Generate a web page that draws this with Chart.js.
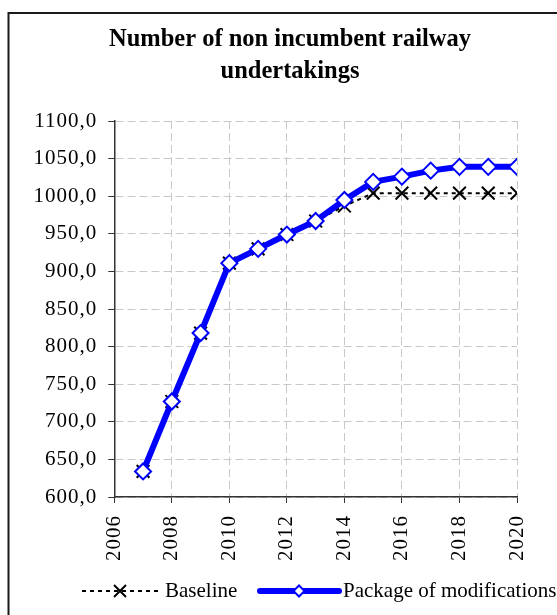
<!DOCTYPE html>
<html>
<head>
<meta charset="utf-8">
<title>Number of non incumbent railway undertakings</title>
<script src="https://cdn.jsdelivr.net/npm/chart.js@4.4.1/dist/chart.umd.min.js"></script>
<style>
    html, body { margin: 0; padding: 0; background: #ffffff; overflow: hidden; }
    #wrap { position: relative; width: 557px; height: 615px; }
</style>
</head>
<body>
<div id="wrap"><canvas id="myChart" width="557" height="615"></canvas></div>
<script>
// values
var years = [2007, 2008, 2009, 2010, 2011, 2012, 2013, 2014, 2015, 2016, 2017, 2018, 2019, 2020];
var baselineValues = [634, 727, 818, 911, 930, 949, 967, 987, 1004, 1004, 1004, 1004, 1004, 1004];
var packageValues = [634, 727, 818, 911, 930, 949, 967, 995, 1019, 1026, 1034, 1039, 1039, 1039];
var seriesNames = ['Baseline', 'Package of modifications'];
var titleLines = ['Number of non incumbent railway', 'undertakings'];
var xTicks = [2006, 2008, 2010, 2012, 2014, 2016, 2018, 2020];
var yTicks = [600, 650, 700, 750, 800, 850, 900, 950, 1000, 1050, 1100];

var FONT = "'Liberation Serif', 'Times New Roman', serif";

function toPoints(values)
{
    return years.map(function (year, i) { return { x: year, y: values[i] }; });
}

function drawCross(ctx, x, y, r)
{
    ctx.beginPath();
    ctx.moveTo(x - r, y - r); ctx.lineTo(x + r, y + r);
    ctx.moveTo(x - r, y + r); ctx.lineTo(x + r, y - r);
    ctx.stroke();
}

function drawDiamond(ctx, x, y, r)
{
    ctx.beginPath();
    ctx.moveTo(x, y - r); ctx.lineTo(x + r, y);
    ctx.lineTo(x, y + r); ctx.lineTo(x - r, y);
    ctx.closePath();
    ctx.fill();
    ctx.stroke();
}

// white background plus the outer frame (only left and top edges are in view)
var framePlugin =
{
    id: 'frame',
    beforeDraw: function (chart)
    {
        var ctx = chart.ctx;
        ctx.save();
        ctx.fillStyle = '#ffffff';
        ctx.fillRect(0, 0, chart.width, chart.height);
        ctx.strokeStyle = '#1a1a1a';
        ctx.lineWidth = 2;
        ctx.beginPath();
        ctx.moveTo(8.5, chart.height);
        ctx.lineTo(8.5, 13);
        ctx.lineTo(chart.width, 13);
        ctx.stroke();
        ctx.restore();
        // Excel spreads the axis digits a little
        ctx.letterSpacing = '1px';
    }
};

// title centred over the whole frame, as in the workbook
var titlePlugin =
{
    id: 'frameTitle',
    afterDraw: function (chart)
    {
        var ctx = chart.ctx;
        ctx.save();
        ctx.letterSpacing = '0px';
        ctx.font = 'bold 24.5px ' + FONT;
        ctx.fillStyle = '#000000';
        ctx.textAlign = 'center';
        ctx.textBaseline = 'alphabetic';
        ctx.fillText(titleLines[0], 290, 46);
        ctx.fillText(titleLines[1], 290, 78);
        ctx.restore();
    }
};

// legend in the Excel style: line sample with the marker in its middle
var legendPlugin =
{
    id: 'lineLegend',
    afterDraw: function (chart)
    {
        var ctx = chart.ctx;
        var base = chart.data.datasets[0];
        var pack = chart.data.datasets[1];
        var y = 591;

        ctx.save();
        ctx.letterSpacing = '0px';
        ctx.font = '21px ' + FONT;
        ctx.textBaseline = 'middle';
        ctx.textAlign = 'left';

        ctx.strokeStyle = base.borderColor;
        ctx.lineWidth = base.borderWidth;
        ctx.setLineDash(base.borderDash);
        ctx.beginPath();
        ctx.moveTo(82, y); ctx.lineTo(158, y);
        ctx.stroke();
        ctx.setLineDash([]);
        ctx.lineWidth = base.pointBorderWidth;
        drawCross(ctx, 120, y, 6);
        ctx.fillStyle = '#000000';
        ctx.fillText(seriesNames[0], 165, y);

        ctx.strokeStyle = pack.borderColor;
        ctx.lineWidth = pack.borderWidth;
        ctx.lineCap = 'round';
        ctx.beginPath();
        ctx.moveTo(260, y); ctx.lineTo(339, y);
        ctx.stroke();
        ctx.lineCap = 'butt';
        ctx.lineWidth = pack.pointBorderWidth;
        ctx.fillStyle = pack.pointBackgroundColor;
        drawDiamond(ctx, 299, y, 5.5);
        ctx.fillStyle = '#000000';
        ctx.fillText(seriesNames[1], 343, y);
        ctx.restore();
    }
};

function carregarGrafico()
{
    Chart.defaults.font.family = FONT;
    Chart.defaults.color = '#000000';

    var chartData =
    {
        datasets: [
        {
            label: seriesNames[0],
            data: toPoints(baselineValues),
            order: 1,
            borderColor: '#000000',
            borderWidth: 2,
            borderDash: [4, 4],
            pointStyle: 'crossRot',
            pointRadius: 9,
            pointBorderColor: '#000000',
            pointBorderWidth: 2,
            pointBackgroundColor: '#000000',
            tension: 0
        },
        {
            label: seriesNames[1],
            data: toPoints(packageValues),
            order: 0,
            borderColor: '#0000ff',
            borderWidth: 6,
            pointStyle: 'rectRot',
            pointRadius: 8,
            pointBorderColor: '#0000ff',
            pointBorderWidth: 2,
            pointBackgroundColor: '#ffffff',
            tension: 0
        }]
    };

    var gridStyle =
    {
        color: '#c8c8c8',
        lineWidth: 1,
        tickLength: 6,
        tickColor: '#333333',
        tickBorderDash: []
    };

    // in v4 border.dash is what dashes the grid lines
    var borderStyle = { display: true, color: '#333333', width: 1.5, dash: [8, 4] };

    var chartOptions =
    {
        responsive: false,
        devicePixelRatio: 1,
        animation: false,
        layout: { padding: { left: 8, right: 40, top: 121, bottom: 45 } },
        plugins:
        {
            legend: { display: false },
            tooltip: { enabled: false },
            title: { display: false }
        },
        scales:
        {
            x:
            {
                type: 'linear',
                min: xTicks[0],
                max: xTicks[xTicks.length - 1],
                afterBuildTicks: function (scale)
                {
                    scale.ticks = xTicks.map(function (v) { return { value: v }; });
                },
                afterFit: function (scale) { scale.height = 73; },
                ticks:
                {
                    autoSkip: false,
                    minRotation: 90,
                    maxRotation: 90,
                    padding: 12,
                    font: { size: 21 },
                    callback: function (value) { return String(value); }
                },
                grid: gridStyle,
                border: borderStyle
            },
            y:
            {
                min: yTicks[0],
                max: yTicks[yTicks.length - 1],
                afterBuildTicks: function (scale)
                {
                    scale.ticks = yTicks.map(function (v) { return { value: v }; });
                },
                afterFit: function (scale) { scale.width = 106.3; },
                ticks:
                {
                    padding: 11,
                    font: { size: 21 },
                    callback: function (value) { return value.toFixed(1).replace('.', ','); }
                },
                grid: gridStyle,
                border: borderStyle
            }
        }
    };

    new Chart(document.getElementById('myChart').getContext('2d'),
    {
        type: 'line',
        data: chartData,
        options: chartOptions,
        plugins: [framePlugin, titlePlugin, legendPlugin]
    });
}

carregarGrafico();
</script>
</body>
</html>
